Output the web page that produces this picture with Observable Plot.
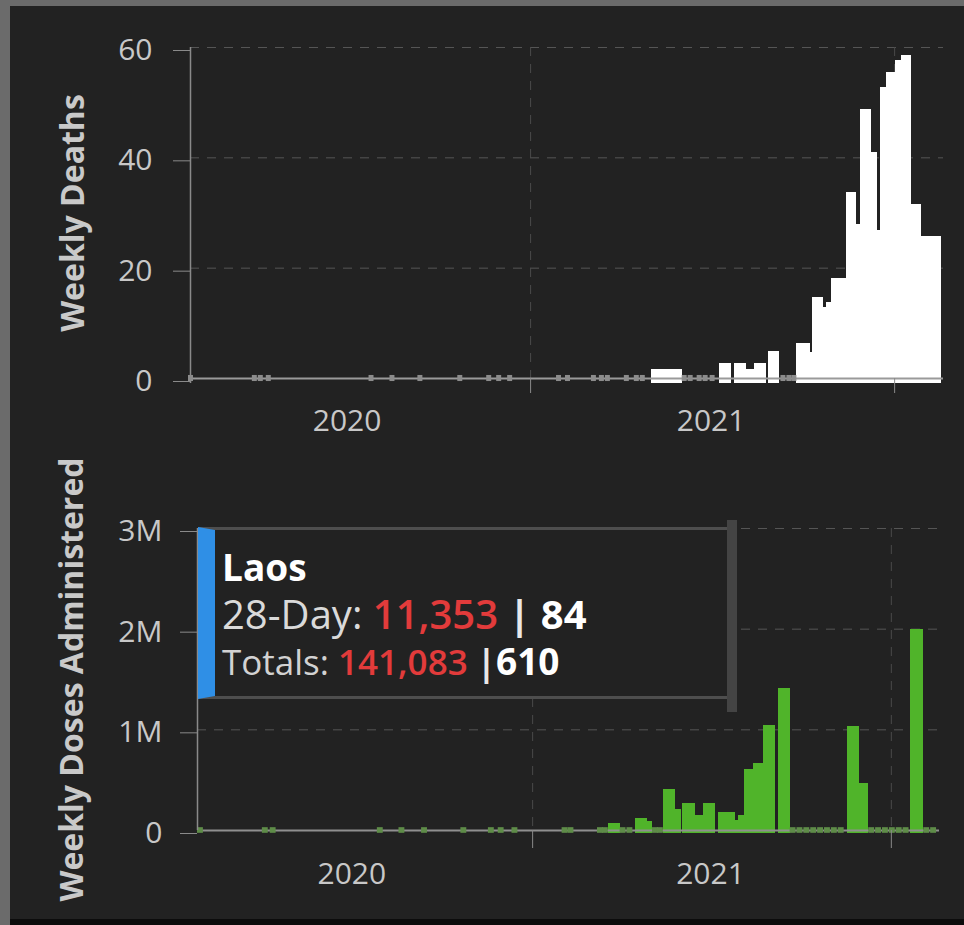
<!DOCTYPE html>
<html>
<head>
<meta charset="utf-8">
<script src="https://cdn.jsdelivr.net/npm/d3@7"></script>
<script src="https://cdn.jsdelivr.net/npm/@observablehq/plot@0.6"></script>
<style>
  html, body { margin: 0; padding: 0; background: #222; }
  #frame { position: relative; width: 964px; height: 925px; background: #222; overflow: hidden; font-family: 'Open Sans', sans-serif; }
  .strip { position: absolute; }
  #stripLeft { left: 0; top: 0; width: 10px; height: 925px; background: #6b6b6b; }
  #stripTop { left: 0; top: 0; width: 964px; height: 6px; background: #6b6b6b; }
  #stripBottom { left: 10px; top: 919px; width: 954px; height: 6px; background: #0c0c0c; }
  #topChart { position: absolute; left: 0; top: 0; }
  #bottomChart { position: absolute; left: 0; top: 440px; }
  #tip { position: absolute; left: 198px; top: 527px; width: 512px; height: 166px; background: #222;
         border-top: 3px solid #4e4e4e; border-bottom: 3px solid #4e4e4e; border-left: 17px solid #2f8fe6; box-sizing: content-box; }
  #tipEdge { position: absolute; left: 727px; top: 520px; width: 10px; height: 192px; background: #444; }
  .tipLine { position: absolute; left: 222px; line-height: 1; white-space: nowrap; font-family: 'Open Sans', sans-serif; }
  #tipName { top: 548px; font-size: 37px; font-weight: 700; color: #fff; }
  #tipRow1 { top: 594px; font-size: 40px; color: #dadada; }
  #tipRow2 { top: 642px; font-size: 35px; color: #d2d2d2; }
  .red { color: #e23b3b; font-weight: 600; }
  .sep { color: #e8e8e8; font-weight: 700; }
  .wb { color: #fff; font-weight: 700; }
  #tipRow2 .wb { font-size: 37px; }
</style>
</head>
<body>
<div id="frame">
  <div id="topChart"></div>
  <div id="bottomChart"></div>
  <div class="strip" id="stripLeft"></div>
  <div class="strip" id="stripTop"></div>
  <div class="strip" id="stripBottom"></div>
  <div id="tip"></div>
  <div id="tipEdge"></div>
  <div class="tipLine" id="tipName"></div>
  <div class="tipLine" id="tipRow1"></div>
  <div class="tipLine" id="tipRow2"></div>
</div>
<script>
// ---------- data ----------
const domainStart = "2020-01-26";
const domainEnd = "2022-02-19";
const gridDates = ["2021-01-01", "2022-01-01"];
const yearLabelDates = ["2020-07-01", "2021-07-01"];
const yearLabels = ["2020", "2021"];

const deathTicks = [0, 20, 40, 60];
const doseTicks = [0, 1000000, 2000000, 3000000];
const doseTickLabels = ["0", "1M", "2M", "3M"];

const yTitleTop = "Weekly Deaths";
const yTitleBottom = "Weekly Doses Administered";

// weekly deaths (bar start, bar end, value)
const deathStart = ["2021-05-02","2021-07-09","2021-07-24","2021-08-05","2021-08-13","2021-08-28",
  "2021-09-25","2021-10-09","2021-10-11","2021-10-22","2021-10-25","2021-10-30","2021-11-14","2021-11-24",
  "2021-11-28","2021-12-09","2021-12-15","2021-12-18","2021-12-24","2022-01-02","2022-01-08","2022-01-18","2022-01-28"];
const deathEnd = ["2021-06-02","2021-07-21","2021-08-05","2021-08-13","2021-08-26","2021-09-08",
  "2021-10-09","2021-10-11","2021-10-22","2021-10-25","2021-10-30","2021-11-14","2021-11-24","2021-11-28",
  "2021-12-09","2021-12-15","2021-12-18","2021-12-24","2022-01-02","2022-01-08","2022-01-18","2022-01-28","2022-02-17"];
const deathValue = [1.6, 2.8, 2.8, 1.6, 2.8, 4.9,
  6.4, 4.8, 14.7, 12.9, 13.7, 18.1, 33.7, 28,
  48.8, 40.9, 26.8, 52.8, 55.5, 57.6, 58.6, 31.5, 25.7];

// weeks reported with zero deaths
const deathZeroWeeks = ["2020-01-24","2020-03-28","2020-04-03","2020-04-11","2020-07-23","2020-08-13",
  "2020-09-10","2020-10-20","2020-11-18","2020-11-28","2020-12-09","2021-01-27","2021-02-05","2021-03-03",
  "2021-03-11","2021-03-17","2021-04-05","2021-04-15","2021-04-21","2021-06-02","2021-06-08","2021-06-17",
  "2021-06-23","2021-06-30","2021-09-09","2021-09-15","2021-09-20"];

// weekly doses administered
const doseStart = ["2021-03-19","2021-04-16","2021-04-28","2021-05-14","2021-05-26","2021-06-03","2021-06-16",
  "2021-06-24","2021-07-09","2021-07-26","2021-07-29","2021-08-05","2021-08-14","2021-08-24","2021-09-08",
  "2021-11-17","2021-11-30","2022-01-21"];
const doseEnd = ["2021-03-31","2021-04-28","2021-05-03","2021-05-26","2021-06-01","2021-06-16","2021-06-24",
  "2021-07-06","2021-07-26","2021-07-29","2021-08-05","2021-08-14","2021-08-24","2021-09-05","2021-09-20",
  "2021-11-30","2021-12-09","2022-02-03"];
const doseValue = [70000, 120000, 90000, 410000, 210000, 270000, 150000,
  270000, 180000, 100000, 150000, 610000, 670000, 1040000, 1410000,
  1030000, 470000, 2000000];

const doseZeroWeeks = ["2020-01-26","2020-04-01","2020-04-09","2020-07-27","2020-08-18","2020-09-10",
  "2020-10-20","2020-11-17","2020-11-27","2020-12-11","2021-01-31","2021-02-06","2021-03-08","2021-03-13",
  "2021-03-31","2021-04-07","2021-05-03","2021-05-08","2021-09-20","2021-09-27","2021-10-04","2021-10-11",
  "2021-10-18","2021-10-25","2021-11-01","2021-11-08","2021-12-09","2021-12-16","2021-12-23","2021-12-30",
  "2022-01-06","2022-01-13","2022-02-03","2022-02-10"];

// tooltip
const tipCountry = "Laos";
const tip28Day = [11353, 84];
const tipTotals = [141083, 610];

// ---------- build ----------
const parse = d3.utcParse("%Y-%m-%d");
const xDomain = [parse(domainStart), parse(domainEnd)];
const grid = gridDates.map(parse);
const labelDates = yearLabelDates.map(parse);
const labelMap = new Map(labelDates.map((d, i) => [+d, yearLabels[i]]));
const yearFmt = d => labelMap.get(+d) ?? "";

const deathRows = deathStart.map((s, i) => ({x1: parse(s), x2: parse(deathEnd[i]), v: deathValue[i]}));
const deathZeroRows = deathZeroWeeks.map(s => ({x1: parse(s), x2: d3.utcDay.offset(parse(s), 5)}));
const doseRows = doseStart.map((s, i) => ({x1: parse(s), x2: parse(doseEnd[i]), v: doseValue[i]}));
const doseZeroRows = doseZeroWeeks.map(s => ({x1: parse(s), x2: d3.utcDay.offset(parse(s), 6)}));

const baseStyle = {background: "transparent", color: "#c8c8c8", fontFamily: "'Open Sans', sans-serif", fontSize: "30px", overflow: "visible"};
const gridStroke = "#555";
const dash = "9,8";

const topPlot = Plot.plot({
  width: 964, height: 440,
  marginLeft: 190, marginRight: 21, marginTop: 47, marginBottom: 62,
  style: baseStyle,
  x: {type: "utc", domain: xDomain},
  y: {domain: [0, 60]},
  marks: [
    Plot.gridY({ticks: deathTicks.filter(d => d > 0), stroke: gridStroke, strokeOpacity: 1, strokeDasharray: dash}),
    Plot.gridX({ticks: grid, stroke: "#4a4a4a", strokeOpacity: 1, strokeDasharray: dash}),
    Plot.rect(deathRows, {x1: "x1", x2: "x2", y1: () => -0.85, y2: "v", fill: "#ffffff", shapeRendering: "crispEdges"}),
    Plot.ruleY([0], {stroke: "#9a9a9a", strokeWidth: 2}),
    Plot.rect(deathZeroRows, {x1: "x1", x2: "x2", y1: () => -0.55, y2: () => 0.55, fill: "#8c8c8c"}),
    Plot.ruleX([xDomain[0]], {y1: () => -0.9, y2: () => 60, stroke: "#8a8a8a", strokeWidth: 1.5}),
    Plot.axisY({ticks: deathTicks, tickSize: 17, tickPadding: 21, stroke: "#8a8a8a", label: null, dy: 3, fill: "#c8c8c8"}),
    Plot.axisX({ticks: grid, tickSize: 15, tickFormat: () => "", stroke: "#8a8a8a", label: null}),
    Plot.axisX({ticks: labelDates, tickSize: 0, tickPadding: 31, tickFormat: yearFmt, label: null, fill: "#c8c8c8"}),
    Plot.text([yTitleTop], {frameAnchor: "left", textAnchor: "middle", rotate: -90, dx: -117, fontSize: 32, fontWeight: 700, fill: "#c9c9c9", text: d => d})
  ]
});
document.getElementById("topChart").appendChild(topPlot);

const bottomPlot = Plot.plot({
  width: 964, height: 485,
  marginLeft: 197, marginRight: 25, marginTop: 88, marginBottom: 95,
  style: baseStyle,
  x: {type: "utc", domain: xDomain},
  y: {domain: [0, 3000000]},
  marks: [
    Plot.gridY({ticks: doseTicks.filter(d => d > 0), stroke: gridStroke, strokeOpacity: 1, strokeDasharray: dash}),
    Plot.gridX({ticks: grid, stroke: "#4a4a4a", strokeOpacity: 1, strokeDasharray: dash}),
    Plot.rect(doseRows, {x1: "x1", x2: "x2", y1: () => -30000, y2: "v", fill: "#50b42a", shapeRendering: "crispEdges"}),
    Plot.ruleY([0], {stroke: "#8f8f8f", strokeWidth: 2}),
    Plot.rect(doseZeroRows, {x1: "x1", x2: "x2", y1: () => -28000, y2: () => 28000, fill: "#5e8c48"}),
    Plot.ruleX([xDomain[0]], {y1: () => 0, y2: () => 3000000, stroke: "#8a8a8a", strokeWidth: 1.5}),
    Plot.axisY({ticks: doseTicks, tickSize: 17, tickPadding: 18, stroke: "#8a8a8a", label: null, dy: 3, fill: "#c8c8c8",
      tickFormat: d => doseTickLabels[doseTicks.indexOf(d)]}),
    Plot.axisX({ticks: grid, tickSize: 18, tickFormat: () => "", stroke: "#8a8a8a", label: null}),
    Plot.axisX({ticks: labelDates, tickSize: 0, tickPadding: 32, tickFormat: yearFmt, label: null, fill: "#c8c8c8"}),
    Plot.text([yTitleBottom], {frameAnchor: "left", textAnchor: "middle", rotate: -90, dx: -125, fontSize: 32, fontWeight: 700, fill: "#c9c9c9", text: d => d})
  ]
});
document.getElementById("bottomChart").appendChild(bottomPlot);

// tooltip text
const fmt = d3.format(",");
document.getElementById("tipName").textContent = tipCountry;
document.getElementById("tipRow1").innerHTML =
  `28-Day: <span class="red">${fmt(tip28Day[0])}</span> <span class="sep">|</span> <span class="wb">${fmt(tip28Day[1])}</span>`;
document.getElementById("tipRow2").innerHTML =
  `Totals: <span class="red">${fmt(tipTotals[0])}</span> <span class="sep">|</span><span class="wb">${fmt(tipTotals[1])}</span>`;
</script>
</body>
</html>
